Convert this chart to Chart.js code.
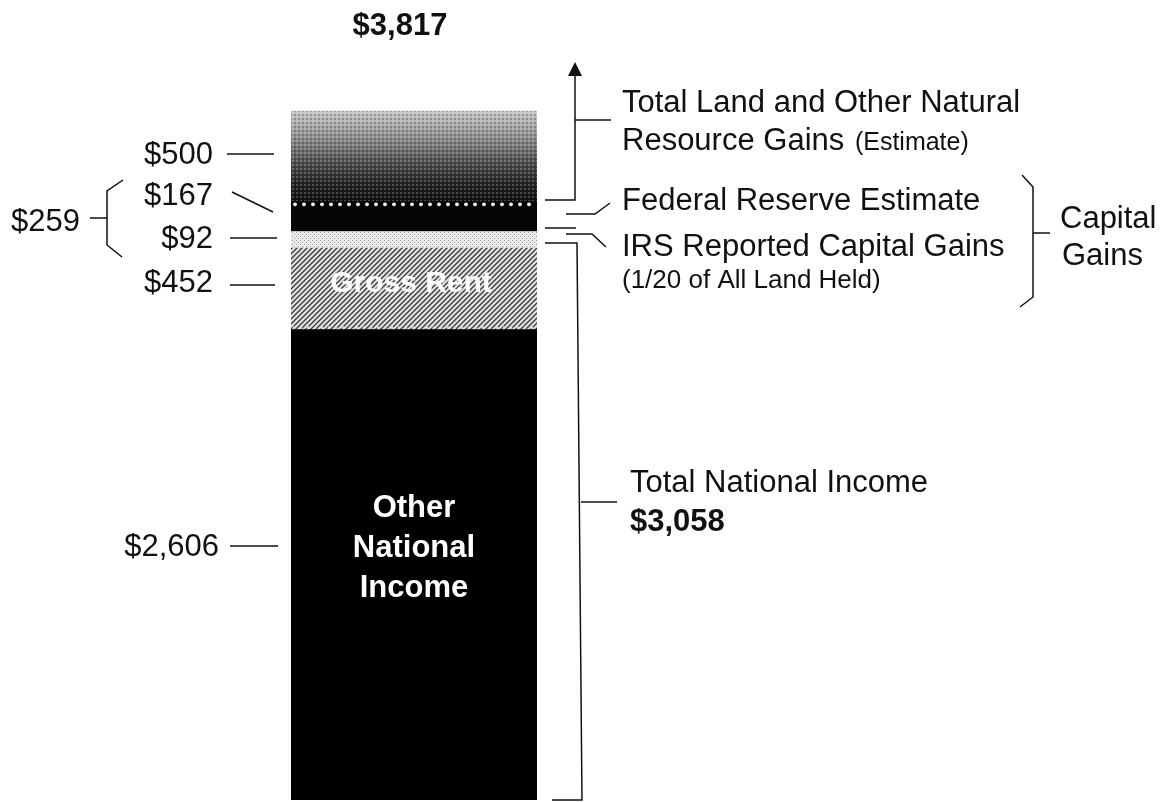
<!DOCTYPE html>
<html><head><meta charset="utf-8">
<script src="https://cdn.jsdelivr.net/npm/chart.js@4"></script>
<style>html,body{margin:0;padding:0;background:#fff}#wrap{width:1170px;height:802px;position:relative}</style>
</head><body><div id="wrap"><canvas id="c" width="1170" height="802"></canvas></div>
<script>
// ---- data (billions of dollars) ----
const categories = ['National Income and Land Gains'];
const otherNationalIncome = [2606];
const grossRent = [452];
const irsCapitalGains = [92];
const fedReserveGains = [167];
const landResourceGains = [500];
const seriesLabels = ['Other National Income', 'Gross Rent', 'IRS Reported Capital Gains',
  'Federal Reserve Estimate', 'Total Land and Other Natural Resource Gains'];

const FONT = '"Liberation Sans", Arial, Helvetica, sans-serif';
const money = v => '$' + v.toLocaleString('en-US');

function tile(w, h, draw) {
  const c = document.createElement('canvas'); c.width = w; c.height = h;
  draw(c.getContext('2d')); return c;
}
const ctx0 = document.getElementById('c').getContext('2d');
const hatch = ctx0.createPattern(tile(5, 5, g => {
  g.fillStyle = '#e2e2e2'; g.fillRect(0, 0, 5, 5);
  g.strokeStyle = '#3a3a3a'; g.lineWidth = 1.35;
  g.beginPath(); g.moveTo(-1, 6); g.lineTo(6, -1); g.moveTo(-1, 1); g.lineTo(1, -1); g.moveTo(4, 6); g.lineTo(6, 4); g.stroke();
}), 'repeat');
const stipple = ctx0.createPattern(tile(4, 4, g => {
  g.fillStyle = '#ececec'; g.fillRect(0, 0, 4, 4);
  g.fillStyle = '#9a9a9a'; g.fillRect(0, 0, 1, 1); g.fillRect(2, 2, 1, 1);
}), 'repeat');
const dotOverlay = ctx0.createPattern(tile(4, 4, g => {
  g.fillStyle = 'rgba(255,255,255,0.22)'; g.fillRect(0, 0, 2, 2);
  g.fillStyle = 'rgba(0,0,0,0.22)'; g.fillRect(2, 2, 2, 2);
}), 'repeat');

function landGradient(context) {
  const chart = context.chart;
  if (!chart.chartArea) return '#777';
  const y = chart.scales.y;
  const base = otherNationalIncome[0] + grossRent[0] + irsCapitalGains[0] + fedReserveGains[0];
  const top = y.getPixelForValue(base + landResourceGains[0]);
  const bot = y.getPixelForValue(base);
  const g = chart.ctx.createLinearGradient(0, top, 0, bot);
  g.addColorStop(0, '#c8c8c8'); g.addColorStop(0.3, '#8e8e8e');
  g.addColorStop(0.6, '#484848'); g.addColorStop(0.85, '#1c1c1c'); g.addColorStop(1, '#111');
  return g;
}

function line(ctx, pts) {
  ctx.beginPath(); ctx.moveTo(pts[0][0], pts[0][1]);
  for (let i = 1; i < pts.length; i++) ctx.lineTo(pts[i][0], pts[i][1]);
  ctx.stroke();
}

const decor = {
  id: 'decor',
  afterDatasetsDraw(chart) {
    const ctx = chart.ctx;
    const land = chart.getDatasetMeta(4).data[0];
    const fed = chart.getDatasetMeta(3).data[0];
    const rent = chart.getDatasetMeta(1).data[0];
    const other = chart.getDatasetMeta(0).data[0];
    const L = land.x - land.width / 2, R = land.x + land.width / 2;
    ctx.save();
    ctx.fillStyle = dotOverlay;
    ctx.fillRect(L, land.y, R - L, land.base - land.y);
    ctx.fillStyle = '#fff';
    for (let x = L + 4; x < R - 2; x += 9) { ctx.beginPath(); ctx.arc(x, fed.y + 3, 1.9, 0, Math.PI * 2); ctx.fill(); }
    ctx.fillStyle = '#d8d8d8';
    for (let x = L + 3; x < R - 2; x += 7) { ctx.beginPath(); ctx.arc(x, rent.base - 2, 1.3, 0, Math.PI * 2); ctx.fill(); }
    ctx.fillStyle = '#fff'; ctx.textAlign = 'center'; ctx.textBaseline = 'middle';
    ctx.font = 'bold 30px ' + FONT;
    ctx.fillText('Gross Rent', rent.x - 3, 284);
    ctx.font = 'bold 31px ' + FONT;
    ['Other', 'National', 'Income'].forEach((t, i) => ctx.fillText(t, other.x, 508 + i * 40));
    ctx.restore();
  },
  afterDraw(chart) {
    const ctx = chart.ctx;
    ctx.save();
    ctx.fillStyle = '#111'; ctx.strokeStyle = '#111'; ctx.lineWidth = 1.5;
    ctx.textBaseline = 'middle';
    const total = otherNationalIncome[0] + grossRent[0] + irsCapitalGains[0] + fedReserveGains[0] + landResourceGains[0];
    const tni = otherNationalIncome[0] + grossRent[0];
    const capg = irsCapitalGains[0] + fedReserveGains[0];
    ctx.textAlign = 'center'; ctx.font = 'bold 31px ' + FONT;
    ctx.fillText(money(total), 400, 26);
    ctx.textAlign = 'right'; ctx.font = '31px ' + FONT;
    ctx.fillText(money(landResourceGains[0]), 213, 155);
    ctx.fillText(money(fedReserveGains[0]), 213, 196);
    ctx.fillText(money(irsCapitalGains[0]), 213, 239);
    ctx.fillText(money(grossRent[0]), 213, 283);
    ctx.fillText(money(otherNationalIncome[0]), 219, 547);
    ctx.fillText(money(capg), 80, 222);
    line(ctx, [[227, 154], [274, 154]]);
    line(ctx, [[232, 192], [273, 212]]);
    line(ctx, [[230, 238], [277, 238]]);
    line(ctx, [[230, 285], [275, 285]]);
    line(ctx, [[230, 546], [278, 546]]);
    line(ctx, [[123, 180], [107, 191], [107, 245], [122, 257]]);
    line(ctx, [[90, 218], [107, 218]]);
    // right side leaders
    line(ctx, [[545, 200], [575, 200], [575, 74]]);
    ctx.beginPath(); ctx.moveTo(575, 62); ctx.lineTo(568, 76); ctx.lineTo(582, 76); ctx.closePath(); ctx.fill();
    line(ctx, [[575, 120], [611, 120]]);
    line(ctx, [[566, 214], [595, 214], [610, 203]]);
    line(ctx, [[545, 228], [576, 228]]);
    line(ctx, [[566, 234], [592, 234], [606, 247]]);
    line(ctx, [[545, 243], [577, 243], [582, 800], [552, 800]]);
    line(ctx, [[581, 502], [617, 502]]);
    line(ctx, [[1022, 175], [1033, 187], [1033, 297], [1020, 307]]);
    line(ctx, [[1033, 233], [1050, 233]]);
    // right texts
    ctx.textAlign = 'left'; ctx.font = '31px ' + FONT;
    ctx.fillText('Total Land and Other Natural', 622, 103);
    ctx.fillText('Resource Gains', 622, 141);
    const w = ctx.measureText('Resource Gains ').width;
    ctx.font = '25px ' + FONT;
    ctx.fillText('(Estimate)', 622 + w + 2, 143);
    ctx.font = '31px ' + FONT;
    ctx.fillText('Federal Reserve Estimate', 622, 201);
    ctx.fillText('IRS Reported Capital Gains', 622, 247);
    ctx.font = '26px ' + FONT;
    ctx.fillText('(1/20 of All Land Held)', 622, 281);
    ctx.font = '31px ' + FONT;
    ctx.fillText('Capital', 1060, 219);
    ctx.fillText('Gains', 1062, 256);
    ctx.fillText('Total National Income', 630, 483);
    ctx.font = 'bold 31px ' + FONT;
    ctx.fillText(money(tni), 630, 522);
    ctx.restore();
  }
};

const colors = ['#000000', hatch, stipple, '#050505', landGradient];
const series = [otherNationalIncome, grossRent, irsCapitalGains, fedReserveGains, landResourceGains];

new Chart(document.getElementById('c'), {
  type: 'bar',
  data: {
    labels: categories,
    datasets: series.map((d, i) => ({
      label: seriesLabels[i], data: d, backgroundColor: colors[i],
      borderWidth: 0, barPercentage: 1, categoryPercentage: 1
    }))
  },
  options: {
    responsive: false, animation: false,
    layout: { padding: { left: 291, right: 633, top: 60, bottom: 2 } },
    scales: {
      x: { stacked: true, display: false },
      y: { stacked: true, display: false, min: 0, max: 4100 }
    },
    plugins: { legend: { display: false }, tooltip: { enabled: false } }
  },
  plugins: [decor]
});
</script></body></html>
